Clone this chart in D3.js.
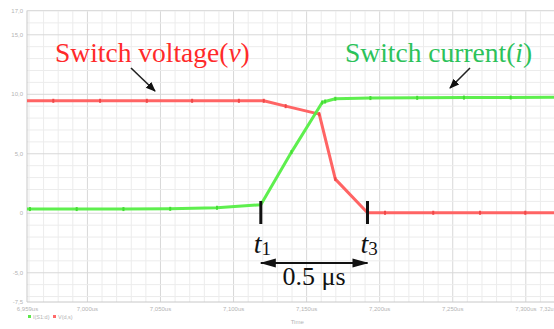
<!DOCTYPE html>
<html><head><meta charset="utf-8">
<script src="https://cdn.jsdelivr.net/npm/d3@7"></script>
<style>body{margin:0;background:#fff;overflow:hidden}svg{display:block}</style>
</head><body><svg id="c" width="554" height="329"></svg>
<script>
// ---- data (time in µs, values in units of the simulator) ----
const currentTime  = [6.959, 6.961, 6.993, 7.025, 7.057, 7.089, 7.119, 7.140, 7.161, 7.163, 7.170, 7.194, 7.226, 7.258, 7.290, 7.321];
const currentValue = [0.31, 0.31, 0.31, 0.31, 0.33, 0.42, 0.67, 5.1, 9.27, 9.35, 9.58, 9.64, 9.66, 9.68, 9.69, 9.70];
const voltageTime  = [6.959, 6.977, 7.009, 7.041, 7.072, 7.104, 7.121, 7.136, 7.159, 7.170, 7.192, 7.204, 7.237, 7.269, 7.300, 7.321];
const voltageValue = [9.41, 9.41, 9.41, 9.41, 9.41, 9.41, 9.41, 8.96, 8.29, 2.83, 0.0, 0.0, 0.0, 0.0, 0.0, 0.0];
const xTickValues = [7.00, 7.05, 7.10, 7.15, 7.20, 7.25, 7.30];
const xTickLabels = ["7,000us", "7,050us", "7,100us", "7,150us", "7,200us", "7,250us", "7,300us"];
const xEdgeValues = [6.959, 7.321];
const xEdgeLabels = ["6,959us", "7,32u"];
const yTickValues = [17, 15, 10, 5, 0, -5, -7.5];
const yTickLabels = ["17,0", "15,0", "10,0", "5,0", "0", "-5,0", "-7,5"];
const eventTimes  = [7.119, 7.192];
const eventSubs   = ["1", "3"];
const spanLabel   = "0.5 μs";
const seriesNames = ["Switch voltage(", "v", ")"];
const seriesNames2 = ["Switch current(", "i", ")"];
const legendLabels = ["I(S1:d)", "V(d,s)"];

// ---- layout ----
const L = 27, R = 556, T = 10.5, B = 302;
const svg = d3.select("#c");
const x = d3.scaleLinear().domain([6.959, 7.321]).range([L, R]);
const y = d3.scaleLinear().domain([-7.5, 17]).range([B, T]);

// grid
const minorX = d3.range(696, 733);
const minorY = d3.range(-7, 18);
svg.append("g").attr("transform", `translate(0,${B})`)
  .call(d3.axisBottom(x).tickValues(minorX.map(d => d / 100)).tickSize(-(B - T)).tickFormat(""))
  .call(g => g.select(".domain").remove())
  .call(g => g.selectAll("line").attr("stroke", (d, i) => minorX[i] % 5 === 0 ? "#d8d8d8" : "#ececec"));
svg.append("g").attr("transform", `translate(${L},0)`)
  .call(d3.axisLeft(y).tickValues(minorY).tickSize(-(R - L)).tickFormat(""))
  .call(g => g.select(".domain").remove())
  .call(g => g.selectAll("line").attr("stroke", d => d % 5 === 0 ? "#d8d8d8" : "#ececec"));
// frame
svg.append("line").attr("x1", L).attr("x2", L).attr("y1", T).attr("y2", B).attr("stroke", "#c8c8c8");
svg.append("line").attr("x1", L).attr("x2", R).attr("y1", B).attr("y2", B).attr("stroke", "#c8c8c8");
svg.append("line").attr("x1", L).attr("x2", R).attr("y1", T).attr("y2", T).attr("stroke", "#dcdcdc");

// tick labels
const tickFont = "Liberation Sans, Arial, sans-serif";
const nT = xTickLabels.length;
svg.append("g").attr("transform", `translate(0,${B})`)
  .call(d3.axisBottom(x).tickValues(xTickValues.concat(xEdgeValues)).tickSize(0).tickPadding(5)
    .tickFormat((d, i) => i < nT ? xTickLabels[i] : xEdgeLabels[i - nT]))
  .call(g => g.select(".domain").remove())
  .call(g => g.selectAll("text").attr("fill", "#b4b4b4").attr("font-size", (d, i) => i === nT + 1 ? 5.5 : 6)
    .attr("font-family", tickFont)
    .attr("text-anchor", (d, i) => i === nT + 1 ? "end" : "middle")
    .attr("dx", (d, i) => i === nT + 1 ? -3 : 0));
svg.append("g").attr("transform", `translate(${L},0)`)
  .call(d3.axisLeft(y).tickValues(yTickValues).tickSize(0).tickPadding(4)
    .tickFormat((d, i) => yTickLabels[i]))
  .call(g => g.select(".domain").remove())
  .call(g => g.selectAll("text").attr("fill", "#b4b4b4").attr("font-size", 6).attr("font-family", tickFont));
svg.append("text").attr("x", (x(7.15) + x(7.20)) / 2 - 52).attr("y", 324).attr("font-size", 6)
  .attr("font-family", tickFont).attr("fill", "#b4b4b4").text("Time");

// legend
const legColors = ["#5ce84a", "#ff6a6a"];
legendLabels.forEach((t, i) => {
  const lx = 28 + i * 25;
  svg.append("rect").attr("x", lx).attr("y", 315).attr("width", 3).attr("height", 3).attr("fill", legColors[i]);
  svg.append("text").attr("x", lx + 5).attr("y", 318.5).attr("font-size", 5.5).attr("font-family", tickFont)
    .attr("fill", "#b4b4b4").text(t);
});

// series
const line = d3.line().x(d => x(d[0])).y(d => y(d[1]));
const volt = voltageTime.map((t, i) => [t, voltageValue[i]]);
const curr = currentTime.map((t, i) => [t, currentValue[i]]);
svg.append("path").datum(volt).attr("d", line).attr("fill", "none")
  .attr("stroke", "#ff5c5c").attr("stroke-width", 3).attr("stroke-linejoin", "round").attr("opacity", 0.95);
svg.append("path").datum(curr).attr("d", line).attr("fill", "none")
  .attr("stroke", "#55ee44").attr("stroke-width", 3).attr("stroke-linejoin", "round").attr("opacity", 0.95);
svg.append("g").selectAll("rect").data(volt.slice(1, -1)).join("rect")
  .attr("x", d => x(d[0]) - 1).attr("y", d => y(d[1]) - 2).attr("width", 2).attr("height", 4).attr("fill", "#f04848");
svg.append("g").selectAll("rect").data(curr.slice(1, -1)).join("rect")
  .attr("x", d => x(d[0]) - 1).attr("y", d => y(d[1]) - 2).attr("width", 2).attr("height", 4).attr("fill", "#44dd34");

// arrow markers
const defs = svg.append("defs");
defs.append("marker").attr("id", "ah").attr("viewBox", "0 0 10 10").attr("refX", 9).attr("refY", 5)
  .attr("markerWidth", 10).attr("markerHeight", 10).attr("markerUnits", "userSpaceOnUse").attr("orient", "auto")
  .append("path").attr("d", "M0,1 L10,5 L0,9 Z").attr("fill", "#111");
defs.append("marker").attr("id", "ah2").attr("viewBox", "0 0 16 10").attr("refX", 15).attr("refY", 5)
  .attr("markerWidth", 16).attr("markerHeight", 10).attr("markerUnits", "userSpaceOnUse").attr("orient", "auto-start-reverse")
  .append("path").attr("d", "M0,0.5 L16,5 L0,9.5 Z").attr("fill", "#111");

// series labels
const serif = "Liberation Serif, 'Times New Roman', serif";
function label(parts, xx, yy, color) {
  const t = svg.append("text").attr("x", xx).attr("y", yy).attr("font-family", serif)
    .attr("font-size", 27.5).attr("fill", color);
  t.append("tspan").text(parts[0]);
  t.append("tspan").attr("font-style", "italic").text(parts[1]);
  t.append("tspan").text(parts[2]);
}
label(seriesNames, 55, 61.5, "#ff2a2a");
label(seriesNames2, 345, 61.5, "#2cc25a");
svg.append("line").attr("x1", 131).attr("y1", 68).attr("x2", 155).attr("y2", 91)
  .attr("stroke", "#222").attr("stroke-width", 1.6).attr("marker-end", "url(#ah)");
svg.append("line").attr("x1", 470).attr("y1", 68).attr("x2", 450).attr("y2", 88)
  .attr("stroke", "#222").attr("stroke-width", 1.6).attr("marker-end", "url(#ah)");

// event markers
eventTimes.forEach((t, i) => {
  const ex = x(t);
  svg.append("line").attr("x1", ex).attr("x2", ex).attr("y1", 201).attr("y2", 224)
    .attr("stroke", "#111").attr("stroke-width", 3);
  const tx = svg.append("text").attr("x", ex - 7).attr("y", 253).attr("font-family", serif)
    .attr("font-size", 28).attr("fill", "#111");
  tx.append("tspan").attr("font-style", "italic").text("t");
  tx.append("tspan").attr("font-size", 19).attr("dy", 2).text(eventSubs[i]);
});
svg.append("line").attr("x1", x(eventTimes[0])).attr("x2", x(eventTimes[1])).attr("y1", 263).attr("y2", 263)
  .attr("stroke", "#111").attr("stroke-width", 2)
  .attr("marker-start", "url(#ah2)").attr("marker-end", "url(#ah2)");
svg.append("text").attr("x", (x(eventTimes[0]) + x(eventTimes[1])) / 2).attr("y", 285)
  .attr("text-anchor", "middle").attr("font-family", serif).attr("font-size", 26).attr("fill", "#111").text(spanLabel);
</script>
</body></html>
